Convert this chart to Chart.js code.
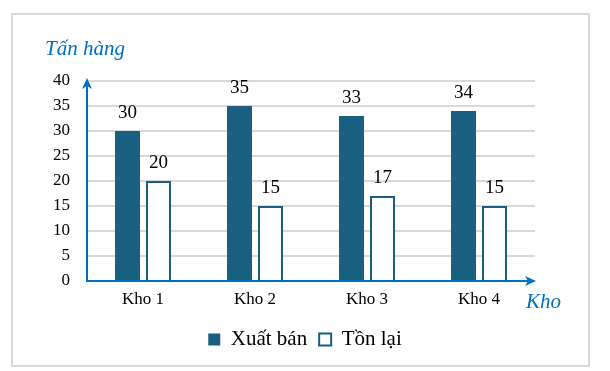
<!DOCTYPE html>
<html>
<head>
<meta charset="utf-8">
<script src="https://cdn.jsdelivr.net/npm/chart.js@4.4.1/dist/chart.umd.min.js"></script>
<style>
html, body { margin: 0; padding: 0; background: #fff; }
#wrap { width: 610px; height: 371px; }
</style>
</head>
<body>
<div id="wrap"><canvas id="chart"></canvas></div>
<script>
const categories = ['Kho 1', 'Kho 2', 'Kho 3', 'Kho 4'];
const xuatBan = [30, 35, 33, 34];
const tonLai = [20, 15, 17, 15];
const yMin = 0, yMax = 40, yStep = 5;

const dark = '#185F80';
const blue = '#0070C0';
const serif = '"Liberation Serif", "Times New Roman", serif';

// khung xám quanh biểu đồ
const framePlugin = {
    id: 'frame',
    beforeDraw(chart) {
        const ctx = chart.ctx;
        ctx.save();
        ctx.fillStyle = '#fff';
        ctx.fillRect(0, 0, chart.width, chart.height);
        ctx.strokeStyle = '#d9d9d9';
        ctx.lineWidth = 2;
        ctx.strokeRect(12, 14, 577, 352);
        ctx.restore();
    }
};

// trục có mũi tên + tên trục
const axesPlugin = {
    id: 'arrowAxes',
    afterDatasetsDraw(chart) {
        const ctx = chart.ctx;
        const a = chart.chartArea;
        const x0 = a.left, y0 = a.bottom;
        ctx.save();
        ctx.strokeStyle = blue;
        ctx.fillStyle = blue;
        ctx.lineWidth = 2;
        // truc y
        ctx.beginPath();
        ctx.moveTo(x0, y0 + 1);
        ctx.lineTo(x0, a.top + 4);
        ctx.stroke();
        ctx.beginPath();
        ctx.moveTo(x0, a.top - 3);
        ctx.lineTo(x0 - 5, a.top + 8);
        ctx.lineTo(x0, a.top + 5);
        ctx.lineTo(x0 + 5, a.top + 8);
        ctx.closePath();
        ctx.fill();
        // truc x
        ctx.beginPath();
        ctx.moveTo(x0 - 1, y0);
        ctx.lineTo(a.right - 4, y0);
        ctx.stroke();
        ctx.beginPath();
        ctx.moveTo(a.right + 1, y0);
        ctx.lineTo(a.right - 10, y0 - 5);
        ctx.lineTo(a.right - 7, y0);
        ctx.lineTo(a.right - 10, y0 + 5);
        ctx.closePath();
        ctx.fill();

        ctx.font = 'italic 21px ' + serif;
        ctx.textBaseline = 'middle';
        ctx.textAlign = 'left';
        ctx.fillText('Tấn hàng', 45, 49);
        ctx.fillText('Kho', 526, 302);
        ctx.restore();
    }
};

// số liệu trên đầu cột
const valuePlugin = {
    id: 'values',
    afterDatasetsDraw(chart) {
        const ctx = chart.ctx;
        ctx.save();
        ctx.font = '19px ' + serif;
        ctx.fillStyle = '#000';
        ctx.textAlign = 'center';
        ctx.textBaseline = 'bottom';
        chart.data.datasets.forEach((ds, i) => {
            chart.getDatasetMeta(i).data.forEach((bar, j) => {
                ctx.fillText(ds.data[j], bar.x, bar.y - 8);
            });
        });
        ctx.restore();
    }
};

const chart = new Chart(document.getElementById('chart'), {
    type: 'bar',
    data: {
        labels: categories,
        datasets: [{
            label: 'Xuất bán',
            data: xuatBan,
            backgroundColor: dark,
            borderColor: dark,
            borderWidth: 0,
            barPercentage: 0.806,
            categoryPercentage: 0.554
        }, {
            label: 'Tồn lại',
            data: tonLai,
            backgroundColor: '#fff',
            borderColor: dark,
            borderWidth: 2,
            barPercentage: 0.806,
            categoryPercentage: 0.554
        }]
    },
    options: {
        responsive: true,
        maintainAspectRatio: false,
        animation: false,
        layout: {
            padding: { top: 81, right: 0, left: 0, bottom: 11 }
        },
        plugins: {
            tooltip: { enabled: false },
            legend: {
                position: 'bottom',
                labels: {
                    color: '#000',
                    font: { family: serif, size: 21 },
                    boxWidth: 12,
                    boxHeight: 12,
                    padding: 12
                }
            }
        },
        scales: {
            x: {
                grid: { display: false, drawTicks: false },
                border: { display: false },
                ticks: {
                    color: '#000',
                    font: { family: serif, size: 17 },
                    padding: 8
                },
                afterFit(axis) { axis.height = 36; }
            },
            y: {
                min: yMin,
                max: yMax,
                grid: { color: '#d9d9d9', lineWidth: 2, drawTicks: false },
                border: { display: false },
                ticks: {
                    stepSize: yStep,
                    color: '#000',
                    font: { family: serif, size: 17 },
                    padding: 17
                },
                afterFit(axis) { axis.width = 87; }
            },
            // trục phụ bên phải chỉ để chừa chỗ cho chữ "Kho"
            yRight: {
                position: 'right',
                display: true,
                grid: { display: false, drawTicks: false },
                border: { display: false },
                ticks: { display: false },
                afterFit(axis) { axis.width = 75; }
            }
        }
    },
    plugins: [framePlugin, axesPlugin, valuePlugin]
});
</script>
</body>
</html>
